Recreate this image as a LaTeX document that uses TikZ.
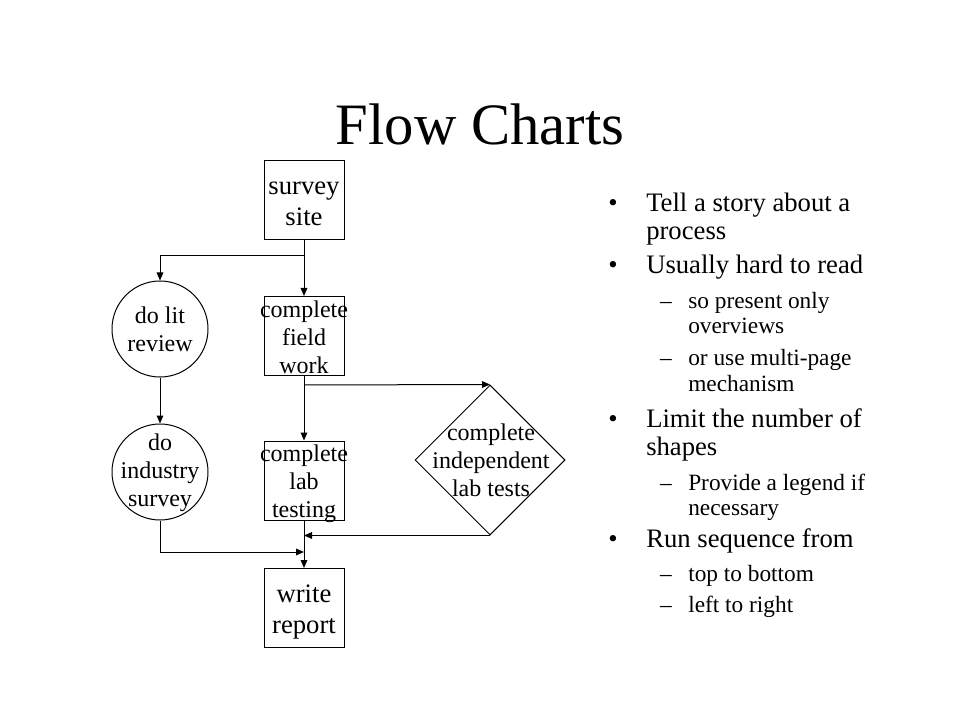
\documentclass[tikz,border=0pt]{standalone}
\usepackage{fontspec}
\setmainfont{Liberation Serif}
\usetikzlibrary{arrows.meta,shapes.geometric}

\tikzset{
	flowbox/.style={draw, line width=0.75pt, minimum width=60pt, minimum height=59.25pt, inner sep=0pt},
	flowcirc/.style={draw, circle, line width=0.75pt, minimum size=72pt, inner sep=0pt},
	flowdiam/.style={draw, diamond, line width=0.75pt, minimum width=112.5pt, minimum height=112.5pt, inner sep=0pt},
	bigtext/.style={align=center, font=\fontsize{20}{23}\selectfont, inner sep=0pt},
	smalltext/.style={align=center, font=\fontsize{18}{21}\selectfont, inner sep=0pt},
	flowline/.style={line width=0.75pt, -{Triangle[length=6pt,width=5pt]}},
	levelone/.style={anchor=base west, font=\fontsize{20}{24}\selectfont, inner sep=0pt},
	leveltwo/.style={anchor=base west, font=\fontsize{17.5}{21}\selectfont, inner sep=0pt},
	bulletmark/.style={anchor=base, inner sep=0pt},
}

\begin{document}
\begin{tikzpicture}[x=0.75pt, y=-0.75pt]
		%%%%% START %%%%%
		\useasboundingbox (0, 0) rectangle (960, 720);
		
		\node[font=\fontsize{44}{48}\selectfont, anchor=base, inner sep=0pt] (title) at (480, 145) {Flow Charts};
		
		% flow chart shapes
		\node[flowbox] (survey) at (304, 200.5) {};
		\node[bigtext] (survey-t) at (304, 204) {survey\\site};
		
		\node[flowcirc] (litrev) at (160, 329) {};
		\node[smalltext] (litrev-t) at (litrev) {do lit\\review};
		
		\node[flowbox] (field) at (304, 336) {};
		\node[smalltext] (field-t) at (304, 337) {complete\\field\\work};
		
		\node[flowcirc] (industry) at (160, 472) {};
		\node[smalltext] (industry-t) at (160, 473) {do\\industry\\survey};
		
		\node[flowbox] (lab) at (304, 480.5) {};
		\node[smalltext] (lab-t) at (304, 484) {complete\\lab\\testing};
		
		\node[flowdiam] (tests) at (490, 460) {};
		\node[smalltext] (tests-t) at (491, 460) {complete\\independent\\lab tests};
		
		\node[flowbox] (report) at (304, 608) {};
		\node[bigtext] (report-t) at (304, 612) {write\\report};
		
		% connectors
		\coordinate (split) at (304, 256);
		\coordinate (fork) at (304, 385);
		\coordinate (merge) at (304, 552);
		
		\draw[flowline] (survey) -- (field);
		\draw[flowline] (split) -| (litrev);
		\draw[flowline] (litrev) -- (industry);
		\draw[flowline] (field) -- (lab);
		\draw[flowline] (fork) -- (tests.north);
		\draw[flowline] (tests.south) -- (tests.south -| lab);
		\draw[flowline] (industry) |- (merge);
		\draw[flowline] (lab) -- (report);
		
		% bullet list
		\node[bulletmark, font=\fontsize{20}{24}\selectfont] (dot1) at (613, 212) {\textbullet};
		\node[levelone] (item1) at (646, 212) {Tell a story about a};
		\node[levelone] (item1b) at (646, 240) {process};
		
		\node[bulletmark, font=\fontsize{20}{24}\selectfont] (dot2) at (613, 274) {\textbullet};
		\node[levelone] (item2) at (646, 274) {Usually hard to read};
		\node[bulletmark, font=\fontsize{17.5}{21}\selectfont] (dash1) at (666, 308) {--};
		\node[leveltwo] (sub1) at (688, 308) {so present only};
		\node[leveltwo] (sub1b) at (688, 334) {overviews};
		\node[bulletmark, font=\fontsize{17.5}{21}\selectfont] (dash2) at (666, 365) {--};
		\node[leveltwo] (sub2) at (688, 365) {or use multi-page};
		\node[leveltwo] (sub2b) at (688, 391) {mechanism};
		
		\node[bulletmark, font=\fontsize{20}{24}\selectfont] (dot3) at (613, 427) {\textbullet};
		\node[levelone] (item3) at (646, 427) {Limit the number of};
		\node[levelone] (item3b) at (646, 455) {shapes};
		\node[bulletmark, font=\fontsize{17.5}{21}\selectfont] (dash3) at (666, 490) {--};
		\node[leveltwo] (sub3) at (688, 490) {Provide a legend if};
		\node[leveltwo] (sub3b) at (688, 515) {necessary};
		
		\node[bulletmark, font=\fontsize{20}{24}\selectfont] (dot4) at (613, 547) {\textbullet};
		\node[levelone] (item4) at (646, 547) {Run sequence from};
		\node[bulletmark, font=\fontsize{17.5}{21}\selectfont] (dash4) at (666, 581) {--};
		\node[leveltwo] (sub4) at (688, 581) {top to bottom};
		\node[bulletmark, font=\fontsize{17.5}{21}\selectfont] (dash5) at (666, 612) {--};
		\node[leveltwo] (sub5) at (688, 612) {left to right};
		%%%%% END %%%%%
	\end{tikzpicture}
\end{document}
